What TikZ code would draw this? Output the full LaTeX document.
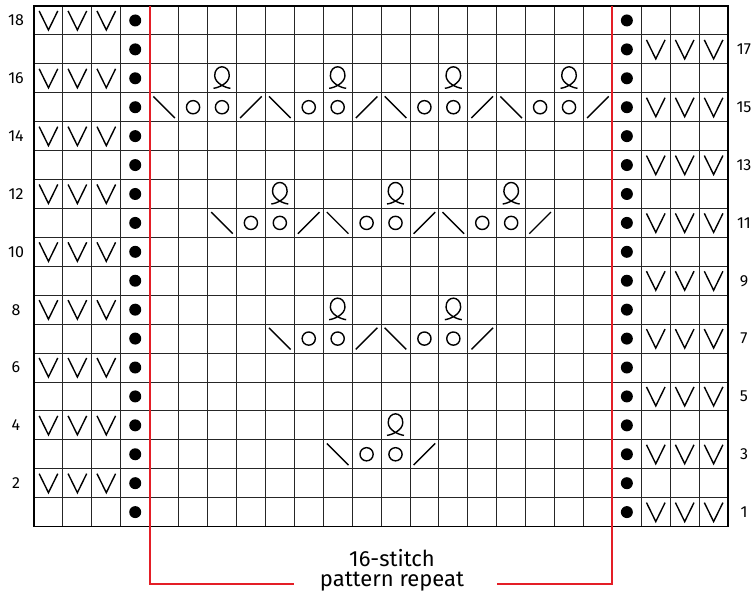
\documentclass[tikz,border=0pt]{standalone}
\usepackage{fontspec}
\setmainfont{Fira Sans}
\definecolor{repred}{RGB}{228,30,38}
\begin{document}
\begin{tikzpicture}[x=1pt,y=-1pt,
  gridline/.style={line width=0.9pt, black!85},
  border/.style={line width=1.5pt, black},
  sym/.style={line width=1.4pt, black},
  lbl/.style={font=\fontsize{16}{16}\selectfont, inner sep=0pt},
  reptext/.style={font=\fontsize{22}{22}\selectfont, inner sep=0pt, anchor=base},
  repline/.style={repred, line width=2pt, line join=miter},
  atcell/.style 2 args={shift={({34+((#1)-0.5)*28.92},{6+(18.5-(#2))*28.92})}},
  vst/.pic={\draw[sym, line join=miter] (-9.3,-9.5) -- (0,9.5) -- (9.3,-9.5);},
  pdot/.pic={\fill (0,0) circle (6);},
  yo/.pic={\draw[sym] (0,0) circle (6.6);},
  kl/.pic={\draw[sym] (-10.8,-10.8) -- (10.8,10.8);},
  kr/.pic={\draw[sym] (-10.8,10.8) -- (10.8,-10.8);},
  tw/.pic={\draw[sym] (-8.5,10) .. controls (-3.5,9.5) and (7,5) .. (7.3,-2.5)
     .. controls (7.5,-8.5) and (3.5,-11.5) .. (0,-11.5)
     .. controls (-3.5,-11.5) and (-7.5,-8.5) .. (-7.3,-2.5)
     .. controls (-7,5) and (3.5,9.5) .. (8.5,10);}
]
\useasboundingbox (0,0) rectangle (753,600);
% grid
\foreach \i in {1,...,23}
  \draw[gridline] ({34+\i*28.92},6) -- ({34+\i*28.92},{6+18*28.92});
\foreach \j in {1,...,17}
  \draw[gridline] (34,{6+\j*28.92}) -- ({34+24*28.92},{6+\j*28.92});
\draw[border] (34,6) rectangle ({34+24*28.92},{6+18*28.92});
% red repeat lines
\coordinate (lt) at ({34+4*28.92},6);
\coordinate (lb) at ({34+4*28.92},584);
\coordinate (le) at (294,584);
\coordinate (rt) at ({34+20*28.92},6);
\coordinate (rb) at ({34+20*28.92},584);
\coordinate (re) at (497,584);
\draw[repline] (lt) -- (lb) -- (le);
\draw[repline] (rt) -- (rb) -- (re);
% edge stitches
\foreach \r in {2,4,...,18} {
  \foreach \i in {1,2,3} \pic[atcell={\i}{\r}] {vst};
  \node[lbl] (lab\r) at (16,{6+(18.5-\r)*28.92}) {\r};
}
\foreach \r in {1,3,...,17} {
  \foreach \i in {22,23,24} \pic[atcell={\i}{\r}] {vst};
  \node[lbl] (lab\r) at (744,{6+(18.5-\r)*28.92}) {\r};
}
\foreach \r in {1,...,18} {
  \pic[atcell={4}{\r}] {pdot};
  \pic[atcell={21}{\r}] {pdot};
}
% lace groups: start column, row
\foreach \s/\r in {5/15,9/15,13/15,17/15, 7/11,11/11,15/11, 9/7,13/7, 11/3} {
  \pic[atcell={\s}{\r}] {kl};
  \pic[atcell={\s+1}{\r}] {yo};
  \pic[atcell={\s+2}{\r}] {yo};
  \pic[atcell={\s+3}{\r}] {kr};
  \pic[atcell={\s+2}{\r+1}] {tw};
}
% repeat label
\node[reptext] (repa) at (392,566.7) {16-stitch};
\node[reptext] (repb) at (392,586.7) {pattern repeat};
\end{tikzpicture}
\end{document}
